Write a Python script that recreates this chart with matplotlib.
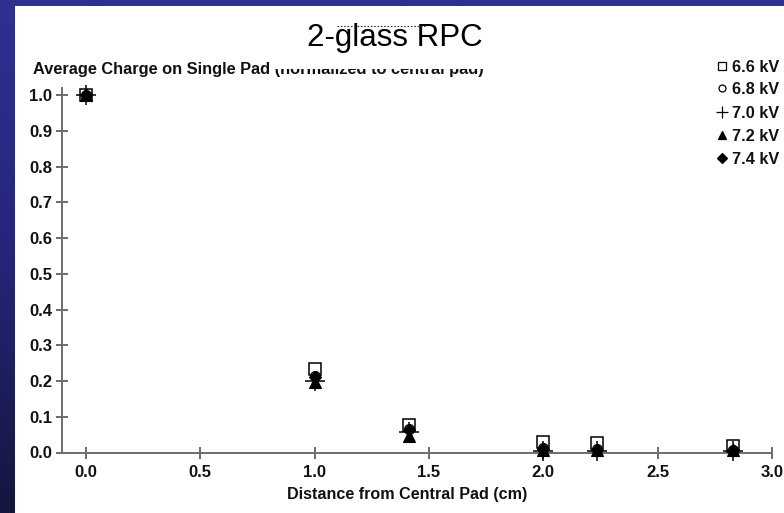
import numpy as np
import matplotlib
matplotlib.use("Agg")
import matplotlib.pyplot as plt
from matplotlib.lines import Line2D
from matplotlib.patches import Rectangle
from matplotlib.colors import LinearSegmentedColormap

plt.rcParams['font.family'] = ['Liberation Sans', 'DejaVu Sans']

# Distance of each pad from the central pad (cm)
distance = [0.0, 1.0, 1.414, 2.0, 2.236, 2.828]

# Average charge on a single pad, normalized to the central pad
q_66 = [1.0, 0.235, 0.078, 0.028, 0.027, 0.018]
q_68 = [1.0, 0.215, 0.065, 0.012, 0.010, 0.008]
q_70 = [1.0, 0.200, 0.056, 0.004, 0.003, 0.003]
q_72 = [1.0, 0.196, 0.046, 0.008, 0.006, 0.006]
q_74 = [1.0, 0.212, 0.062, 0.010, 0.008, 0.008]

labels = ['6.6 kV', '6.8 kV', '7.0 kV', '7.2 kV', '7.4 kV']
series = [q_66, q_68, q_70, q_72, q_74]

x_ticks = [0.0, 0.5, 1.0, 1.5, 2.0, 2.5, 3.0]
y_ticks = [0.0, 0.1, 0.2, 0.3, 0.4, 0.5, 0.6, 0.7, 0.8, 0.9, 1.0]

W, H = 784, 513
fig = plt.figure(figsize=(W / 100, H / 100), dpi=100)

# Slide background: blue gradient, darker toward the bottom
bg = fig.add_axes([0, 0, 1, 1], zorder=-10)
cmap = LinearSegmentedColormap.from_list('slide', ['#2e3192', '#24267a', '#15163c'])
grad = np.linspace(0, 1, 256).reshape(-1, 1)
bg.imshow(grad, cmap=cmap, aspect='auto', extent=[0, 1, 0, 1], origin='upper')
bg.set_axis_off()

# White chart panel
fig.add_artist(Rectangle((15 / W, 0), 1 - 15 / W, 1 - 6 / H,
                         transform=fig.transFigure, facecolor='white',
                         edgecolor='none', zorder=-5))

ax = fig.add_axes([62 / W, 1 - 452.5 / H, (772 - 62) / W, (452.5 - 88) / H])
ax.set_facecolor('none')

styles = [
    dict(marker='s', ms=8, mfc='white', mec='black', mew=1.1),
    dict(marker='o', ms=7, mfc='white', mec='black', mew=1.0),
    dict(marker='+', ms=14, mec='black', mew=1.1),
    dict(marker='^', ms=8, mfc='black', mec='black', mew=0.8),
    dict(marker='D', ms=6.5, mfc='black', mec='black', mew=0.8),
]

for vals, st in zip(series, styles):
    ax.plot(distance, vals, ls='none', clip_on=False, zorder=3, **st)

ax.set_xlim(-0.105, 3.0)
ax.set_ylim(0.0, 1.02)
ax.set_xticks(x_ticks)
ax.set_yticks(y_ticks)
ax.set_xticklabels([f'{v:.1f}' for v in x_ticks])
ax.set_yticklabels([f'{v:.1f}' for v in y_ticks])

for side in ('top', 'right'):
    ax.spines[side].set_visible(False)
for side in ('left', 'bottom'):
    ax.spines[side].set_color('#6e6e6e')
    ax.spines[side].set_linewidth(1.4)

ax.tick_params(axis='both', direction='inout', length=8, width=1.1,
               color='#444444', labelsize=12, labelcolor='#111111')
ax.tick_params(axis='x', pad=5)
ax.tick_params(axis='y', pad=3)
for lab in ax.get_xticklabels() + ax.get_yticklabels():
    lab.set_fontweight('bold')

# Title and axis captions
fig.text(394.5 / W, 1 - 46 / H, '2-glass RPC', ha='center', va='baseline',
         fontsize=22.5, color='black')
fig.text(33 / W, 1 - 74 / H,
         'Average Charge on Single Pad (normalized to central pad)',
         ha='left', va='baseline', fontsize=11.8, fontweight='bold', color='#111111')
# the top of the parenthetical part is masked
fig.add_artist(Rectangle((270 / W, 1 - 68.5 / H), (490 - 270) / W, 10 / H,
                         transform=fig.transFigure, facecolor='white',
                         edgecolor='none', zorder=5))
fig.add_artist(Line2D([337 / W, 425 / W], [1 - 26 / H, 1 - 26 / H],
                      transform=fig.transFigure, color='#333333', lw=0.8,
                      ls=(0, (1.5, 1.5)), zorder=6))
fig.text(407 / W, 1 - 499 / H, 'Distance from Central Pad (cm)', ha='center',
         va='baseline', fontsize=11.6, fontweight='bold', color='#111111')

# Legend
leg_y = [66, 88, 112, 135, 158]
leg_ms = [6, 5, 8, 6, 5]
for lab, st, yy, ms in zip(labels, styles, leg_y, leg_ms):
    st2 = dict(st)
    st2['ms'] = ms
    st2['mew'] = 0.9
    fig.add_artist(Line2D([722 / W], [1 - yy / H], transform=fig.transFigure,
                          ls='none', **st2))
    fig.text(732 / W, 1 - yy / H, lab, ha='left', va='center_baseline',
             fontsize=11.7, fontweight='bold', color='#111111')

fig.savefig('out.png', dpi=100)
